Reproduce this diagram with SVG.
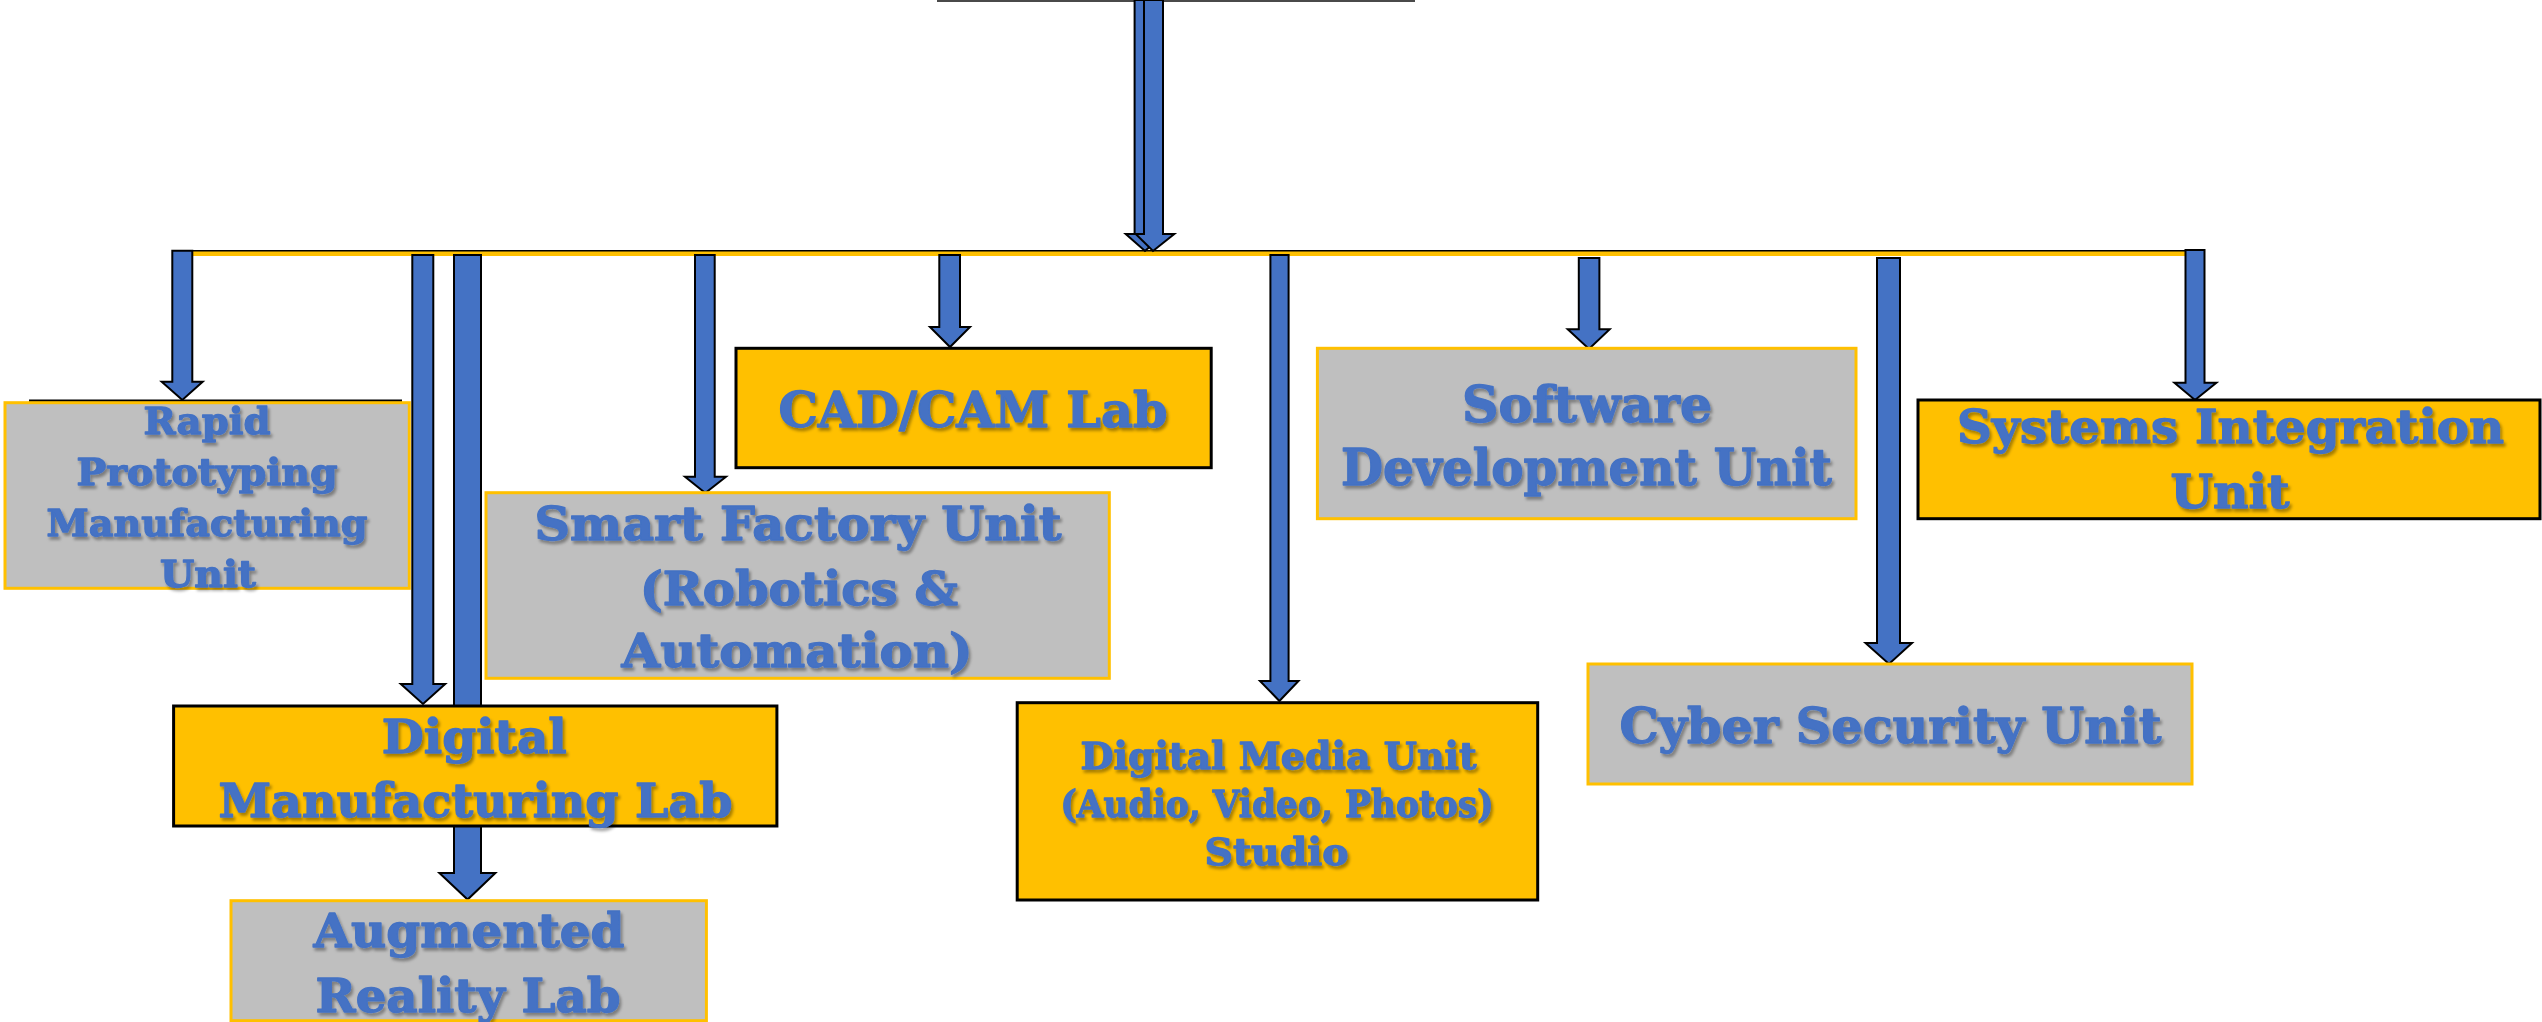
<svg xmlns="http://www.w3.org/2000/svg" width="2542" height="1022" viewBox="0 0 2542 1022">
<defs>
<filter id="sh" x="-5%" y="-20%" width="110%" height="150%">
<feDropShadow dx="2" dy="3" stdDeviation="1.6" flood-color="#000" flood-opacity="0.35"/>
</filter>
</defs>
<style>
.arr{fill:#4472C4;stroke:#000;stroke-width:2;stroke-linejoin:miter}
.gray{fill:#BFBFBF;stroke:#FFC000;stroke-width:3}
.org{fill:#FFC000;stroke:#000;stroke-width:3}
.t{font-family:"DejaVu Serif","Liberation Serif",serif;font-weight:bold;fill:#4472C4;stroke:#4472C4;stroke-width:1.3;stroke-linejoin:round;text-anchor:middle;filter:url(#sh)}
</style>
<rect x="0" y="0" width="2542" height="1022" fill="#fff"/>
<g id="connectors">
<line x1="937" y1="1" x2="1415" y2="1" stroke="#4a4a4a" stroke-width="2"/>
<rect x="185" y="251" width="2018" height="5" fill="#FFC000"/>
<line x1="172" y1="250.7" x2="2204" y2="250.7" stroke="#000" stroke-width="1.5"/>
<polygon class="arr" points="1134.6,0 1153.9,0 1153.9,234 1164.3,234 1145,251 1125.7,234 1134.6,234"/>
<polygon class="arr" points="1144,0 1163,0 1163,234 1174.3,234 1153,251 1135.7,234 1144,234"/>
<polygon class="arr" points="172.3,250.7 192.3,250.7 192.3,381.7 202.7,381.7 182.3,400 161.7,381.7 172.3,381.7"/>
<polygon class="arr" points="412.3,255 433.3,255 433.3,684 445.2,684 423,704 400.8,684 412.3,684"/>
<polygon class="arr" points="454,255 481,255 481,873 495.4,873 467.6,899.5 439.4,873 454,873"/>
<polygon class="arr" points="695,255 714.7,255 714.7,476.7 726,476.7 705.3,493 685,476.7 695,476.7"/>
<polygon class="arr" points="939.3,255 960,255 960,327 970,327 950,347 930,327 939.3,327"/>
<polygon class="arr" points="1270.4,255 1288.6,255 1288.6,681 1298.5,681 1279.4,701 1260,681 1270.4,681"/>
<polygon class="arr" points="1578.8,258 1599.4,258 1599.4,329.3 1609.7,329.3 1589,349 1567.7,329.3 1578.8,329.3"/>
<polygon class="arr" points="1877,258 1900,258 1900,643 1912,643 1889,664 1865.5,643 1877,643"/>
<polygon class="arr" points="2185.5,250 2204.5,250 2204.5,382.7 2216.4,382.7 2195,400 2174.4,382.7 2185.5,382.7"/>
</g>
<g id="rapid">
<line x1="29" y1="400.7" x2="402" y2="400.7" stroke="#000" stroke-width="2.5"/>
<rect class="gray" x="5" y="402.7" width="404.3" height="185.6"/>
<text class="t" font-size="37" x="207" y="434" textLength="127" lengthAdjust="spacingAndGlyphs">Rapid</text>
<text class="t" font-size="37" x="207" y="485" textLength="261" lengthAdjust="spacingAndGlyphs">Prototyping</text>
<text class="t" font-size="37" x="207" y="536" textLength="321" lengthAdjust="spacingAndGlyphs">Manufacturing</text>
<text class="t" font-size="37" x="208" y="587" textLength="96" lengthAdjust="spacingAndGlyphs">Unit</text>
</g>
<g id="cadcam">
<rect class="org" x="736" y="348.3" width="475.2" height="119.4"/>
<text class="t" font-size="48" x="973" y="427" textLength="389" lengthAdjust="spacingAndGlyphs">CAD/CAM Lab</text>
</g>
<g id="smartfactory">
<rect class="gray" x="486" y="492.7" width="623.3" height="185.6"/>
<text class="t" font-size="46" x="798" y="540" textLength="527" lengthAdjust="spacingAndGlyphs">Smart Factory Unit</text>
<text class="t" font-size="46" x="799" y="605" textLength="318" lengthAdjust="spacingAndGlyphs">(Robotics &amp;</text>
<text class="t" font-size="46" x="797" y="667" textLength="351" lengthAdjust="spacingAndGlyphs">Automation)</text>
</g>
<g id="software">
<rect class="gray" x="1317.4" y="348.3" width="538.6" height="170.4"/>
<text class="t" font-size="50" x="1587" y="422" textLength="250" lengthAdjust="spacingAndGlyphs">Software</text>
<text class="t" font-size="50" x="1586.5" y="485" textLength="491" lengthAdjust="spacingAndGlyphs">Development Unit</text>
</g>
<g id="systems">
<rect class="org" x="1918" y="400" width="622" height="118.7"/>
<text class="t" font-size="47" x="2230.5" y="443" textLength="547" lengthAdjust="spacingAndGlyphs">Systems Integration</text>
<text class="t" font-size="47" x="2230" y="508" textLength="119" lengthAdjust="spacingAndGlyphs">Unit</text>
</g>
<g id="digitalmanufacturing">
<rect class="org" x="173.6" y="706" width="603.3" height="120"/>
<text class="t" font-size="46" x="474.3" y="753" textLength="185" lengthAdjust="spacingAndGlyphs">Digital</text>
<text class="t" font-size="46" x="475.5" y="817" textLength="514" lengthAdjust="spacingAndGlyphs">Manufacturing Lab</text>
</g>
<g id="augmented">
<rect class="gray" x="231" y="900.7" width="475.4" height="120"/>
<text class="t" font-size="47" x="469" y="947" textLength="311" lengthAdjust="spacingAndGlyphs">Augmented</text>
<text class="t" font-size="47" x="468" y="1012" textLength="305" lengthAdjust="spacingAndGlyphs">Reality Lab</text>
</g>
<g id="digitalmedia">
<rect class="org" x="1017.2" y="702.7" width="520.5" height="197.3"/>
<text class="t" font-size="38" x="1278.5" y="769" textLength="396" lengthAdjust="spacingAndGlyphs">Digital Media Unit</text>
<text class="t" font-size="38" x="1277" y="817" textLength="433" lengthAdjust="spacingAndGlyphs">(Audio, Video, Photos)</text>
<text class="t" font-size="38" x="1276.5" y="865" textLength="144" lengthAdjust="spacingAndGlyphs">Studio</text>
</g>
<g id="cyber">
<rect class="gray" x="1588" y="664" width="604" height="120"/>
<text class="t" font-size="49" x="1890.4" y="743" textLength="542" lengthAdjust="spacingAndGlyphs">Cyber Security Unit</text>
</g>
</svg>
